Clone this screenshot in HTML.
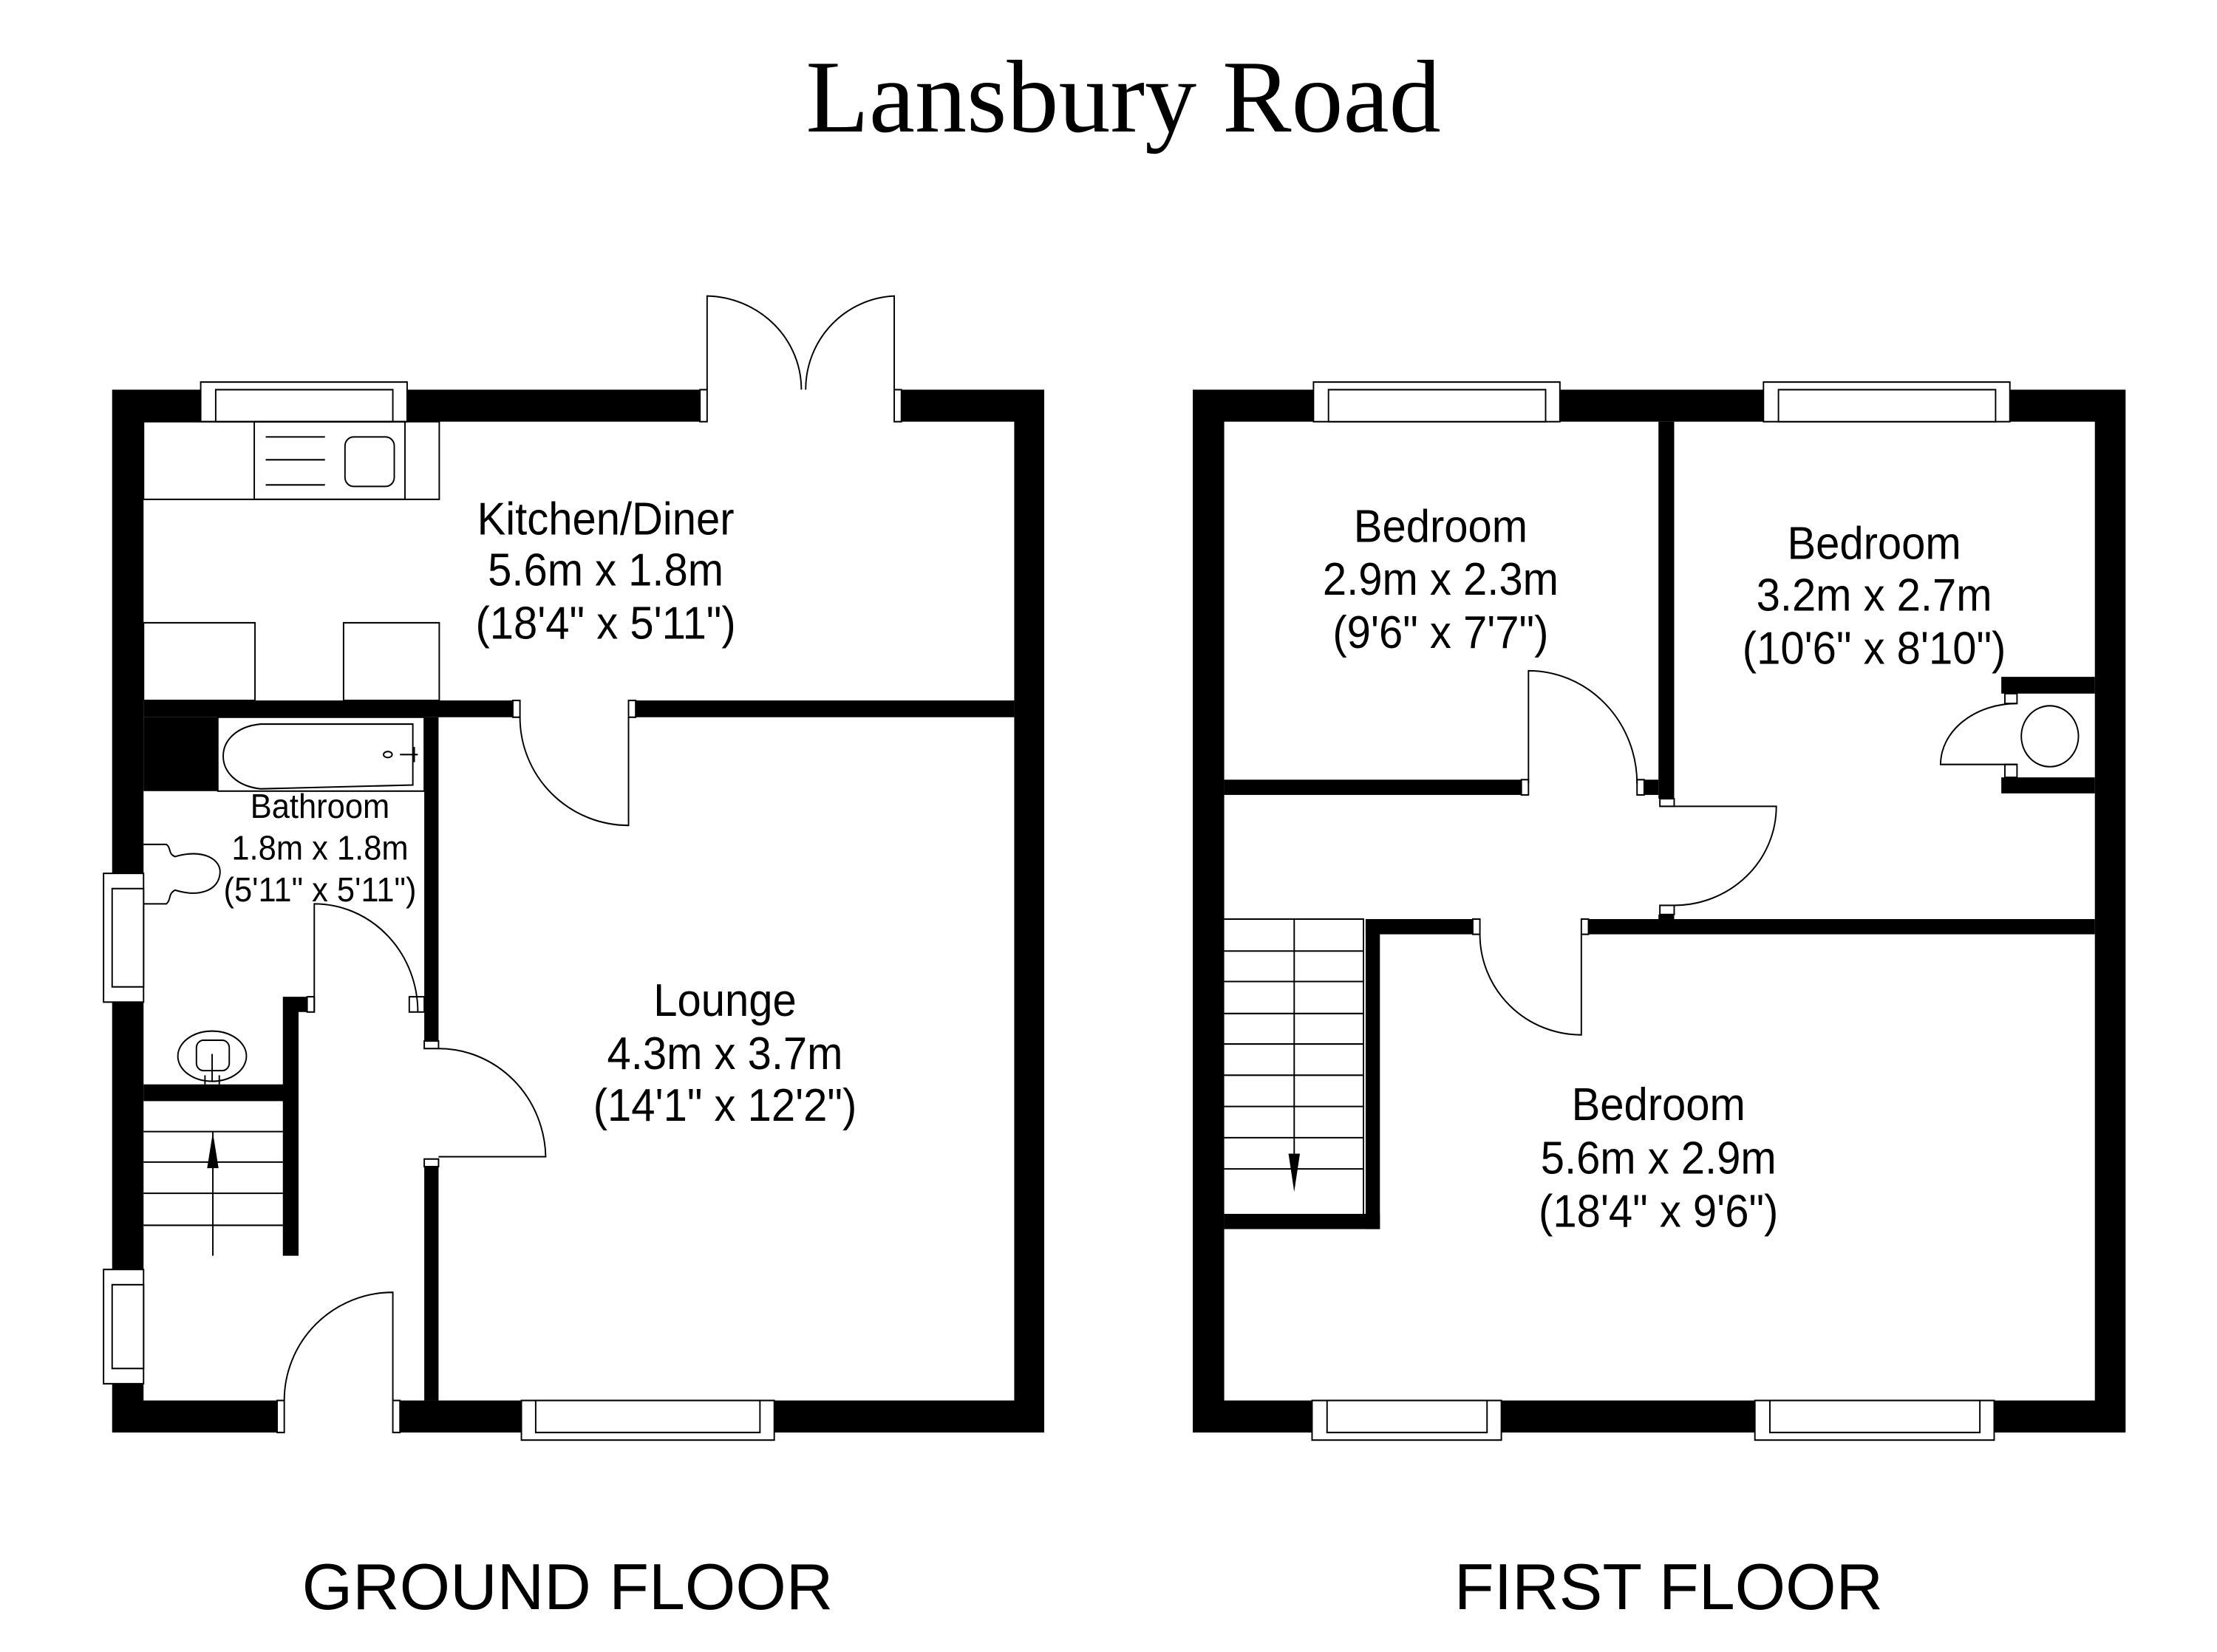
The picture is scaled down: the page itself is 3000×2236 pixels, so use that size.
<!DOCTYPE html>
<html><head><style>html,body{margin:0;padding:0;background:#fff}svg{display:block}</style></head><body>
<svg width="3000" height="2236" viewBox="0 0 3000 2236" xmlns="http://www.w3.org/2000/svg" font-family="Liberation Sans, sans-serif">
<rect width="3000" height="2236" fill="#fff"/>
<text x="1520" y="178" font-family="Liberation Serif, serif" font-size="140" text-anchor="middle">Lansbury Road</text>
<text x="768" y="2178" font-size="88" text-anchor="middle">GROUND FLOOR</text>
<text x="2258" y="2178" font-size="88" text-anchor="middle">FIRST FLOOR</text>

<!-- GROUND FLOOR -->
<g transform="translate(0,380) scale(0.9665,1.031)" stroke-width="2">
<rect x="157" y="143" width="1305" height="1369" fill="#000"/>
<rect x="201" y="185" width="1219" height="1285" fill="#fff"/>
<rect x="281" y="133" width="289" height="52" fill="#fff" stroke="#000"/>
<rect x="302" y="143" width="248" height="42" fill="#fff" stroke="#000"/>
<rect x="980" y="140" width="282" height="46" fill="#fff"/>
<rect x="980" y="143" width="10" height="42" fill="#fff" stroke="#000"/>
<rect x="1252" y="143" width="10" height="42" fill="#fff" stroke="#000"/>
<path d="M990 143 V20 A135 123 0 0 1 1122 143 M1252 143 V20 A130 123 0 0 0 1128 143" fill="none" stroke="#000"/>
<rect x="201" y="185" width="414" height="102" fill="none" stroke="#000"/>
<rect x="356" y="185" width="211" height="102" fill="none" stroke="#000"/>
<path d="M372 205H455M372 235H455M372 268H455" stroke="#000"/>
<rect x="483" y="205" width="69" height="65" rx="12" fill="none" stroke="#000"/>
<rect x="201" y="449" width="156" height="102" fill="none" stroke="#000"/>
<rect x="481" y="449" width="134" height="102" fill="none" stroke="#000"/>
<rect x="201" y="551" width="519" height="22" fill="#000"/>
<rect x="888" y="551" width="532" height="22" fill="#000"/>
<rect x="718" y="551" width="10" height="22" fill="#fff" stroke="#000"/>
<rect x="880" y="551" width="10" height="22" fill="#fff" stroke="#000"/>
<path d="M728 573 A152 142 0 0 0 880 715 V573" fill="none" stroke="#000"/>
<rect x="201" y="573" width="104" height="97" fill="#000"/>
<rect x="305" y="573" width="289" height="97" fill="#fff" stroke="#000"/>
<path d="M365 582 H578 V662 L365 667 C295 660 295 588 365 582Z" fill="none" stroke="#000"/>
<ellipse cx="543" cy="622" rx="6" ry="4" fill="none" stroke="#000"/>
<path d="M560 622 H585 M580 612V632" stroke="#000"/>
<rect x="594" y="573" width="20" height="427" fill="#000"/>
<rect x="573" y="940" width="21" height="20" fill="#fff" stroke="#000"/>
<rect x="594" y="998" width="20" height="10" fill="#fff" stroke="#000"/>
<rect x="594" y="1153" width="20" height="10" fill="#fff" stroke="#000"/>
<rect x="594" y="1163" width="20" height="307" fill="#000"/>
<path d="M614 1008 A150 145 0 0 1 764 1150 H614" fill="none" stroke="#000"/>
<rect x="145" y="778" width="56" height="169" fill="#fff" stroke="#000"/>
<rect x="157" y="798" width="44" height="129" fill="#fff" stroke="#000"/>
<path d="M201 740 H233 C240 745 235 752 245 756 C285 745 310 760 308 778 C306 800 280 810 245 800 C235 805 240 812 233 818 H201" fill="none" stroke="#000"/>
<rect x="201" y="1055" width="217" height="22" fill="#000"/>
<rect x="396" y="940" width="22" height="340" fill="#000"/>
<rect x="418" y="940" width="12" height="20" fill="#000"/>
<rect x="430" y="940" width="10" height="20" fill="#fff" stroke="#000"/>
<path d="M440 960 V818 A145 142 0 0 1 585 960" fill="none" stroke="#000"/>
<ellipse cx="297" cy="1018" rx="48" ry="33" fill="none" stroke="#000"/>
<rect x="275" y="997" width="46" height="40" rx="10" fill="none" stroke="#000"/>
<path d="M297 1015 V1050 M287 1043V1055 M307 1043V1055" stroke="#000"/>
<path d="M201 1117H396M201 1157H396M201 1198H396M201 1240H396M298 1117V1280" stroke="#000"/>
<path d="M298 1118 L290 1165 H306Z" fill="#000"/>
<rect x="145" y="1298" width="56" height="150" fill="#fff" stroke="#000"/>
<rect x="157" y="1318" width="44" height="110" fill="#fff" stroke="#000"/>
<rect x="388" y="1468" width="172" height="46" fill="#fff"/>
<rect x="388" y="1470" width="10" height="42" fill="#fff" stroke="#000"/>
<rect x="550" y="1470" width="10" height="42" fill="#fff" stroke="#000"/>
<path d="M398 1470 A152 142 0 0 1 550 1328 V1470" fill="none" stroke="#000"/>
<rect x="730" y="1470" width="354" height="52" fill="#fff" stroke="#000"/>
<rect x="750" y="1470" width="314" height="42" fill="#fff" stroke="#000"/>
<g font-size="60" text-anchor="middle">
<text x="848" y="333">Kitchen/Diner</text><text x="848" y="400">5.6m x 1.8m</text><text x="848" y="470">(18'4" x 5'11")</text>
<text x="1015" y="965">Lounge</text><text x="1015" y="1035">4.3m x 3.7m</text><text x="1015" y="1103">(14'1" x 12'2")</text>
</g>
<g font-size="45" text-anchor="middle">
<text x="448" y="705">Bathroom</text><text x="448" y="760">1.8m x 1.8m</text><text x="448" y="815">(5'11" x 5'11")</text>
</g>
</g>

<!-- FIRST FLOOR -->
<g transform="translate(1500,380) scale(0.9665,1.031)" stroke-width="2">
<rect x="118" y="143" width="1306" height="1369" fill="#000"/>
<rect x="162" y="185" width="1219" height="1285" fill="#fff"/>
<rect x="287" y="133" width="345" height="52" fill="#fff" stroke="#000"/>
<rect x="308" y="143" width="304" height="42" fill="#fff" stroke="#000"/>
<rect x="917" y="133" width="345" height="52" fill="#fff" stroke="#000"/>
<rect x="938" y="143" width="304" height="42" fill="#fff" stroke="#000"/>
<rect x="285" y="1470" width="265" height="52" fill="#fff" stroke="#000"/>
<rect x="306" y="1470" width="224" height="42" fill="#fff" stroke="#000"/>
<rect x="905" y="1470" width="335" height="52" fill="#fff" stroke="#000"/>
<rect x="926" y="1470" width="294" height="42" fill="#fff" stroke="#000"/>
<rect x="770" y="185" width="22" height="495" fill="#000"/>
<rect x="750" y="655" width="20" height="20" fill="#000"/>
<rect x="740" y="655" width="10" height="20" fill="#fff" stroke="#000"/>
<rect x="772" y="680" width="20" height="10" fill="#fff" stroke="#000"/>
<rect x="772" y="820" width="20" height="12" fill="#fff" stroke="#000"/>
<rect x="770" y="832" width="22" height="6" fill="#000"/>
<path d="M792 690 H935 A143 130 0 0 1 792 820" fill="none" stroke="#000"/>
<rect x="162" y="655" width="416" height="20" fill="#000"/>
<rect x="578" y="655" width="10" height="20" fill="#fff" stroke="#000"/>
<path d="M588 660 V512 A152 148 0 0 1 740 660" fill="none" stroke="#000"/>
<rect x="360" y="838" width="150" height="20" fill="#000"/>
<rect x="510" y="838" width="10" height="20" fill="#fff" stroke="#000"/>
<rect x="662" y="838" width="10" height="20" fill="#fff" stroke="#000"/>
<rect x="672" y="838" width="709" height="20" fill="#000"/>
<path d="M520 858 A142 132 0 0 0 662 990 V858" fill="none" stroke="#000"/>
<rect x="360" y="838" width="20" height="407" fill="#000"/>
<rect x="162" y="1225" width="218" height="20" fill="#000"/>
<path d="M162 838H357V1225 M162 880H357M162 920H357M162 962H357M162 1002H357M162 1043H357M162 1084H357M162 1125H357M162 1166H357M260 838V1150" fill="none" stroke="#000"/>
<path d="M260 1196 L252 1146 H268Z" fill="#000"/>
<rect x="1250" y="520" width="131" height="22" fill="#000"/>
<rect x="1255" y="542" width="17" height="13" fill="#fff" stroke="#000"/>
<rect x="1250" y="652" width="131" height="21" fill="#000"/>
<rect x="1255" y="635" width="17" height="17" fill="#fff" stroke="#000"/>
<path d="M1272 555 A107 80 0 0 0 1165 635 H1272" fill="none" stroke="#000"/>
<circle cx="1318" cy="598" r="40" fill="none" stroke="#000"/>
<g font-size="60" text-anchor="middle">
<text x="465" y="343">Bedroom</text><text x="465" y="412">2.9m x 2.3m</text><text x="465" y="482">(9'6" x 7'7")</text>
<text x="1072" y="365">Bedroom</text><text x="1072" y="433">3.2m x 2.7m</text><text x="1072" y="503">(10'6" x 8'10")</text>
<text x="770" y="1102">Bedroom</text><text x="770" y="1172">5.6m x 2.9m</text><text x="770" y="1242">(18'4" x 9'6")</text>
</g>
</g>
</svg>
</body></html>
